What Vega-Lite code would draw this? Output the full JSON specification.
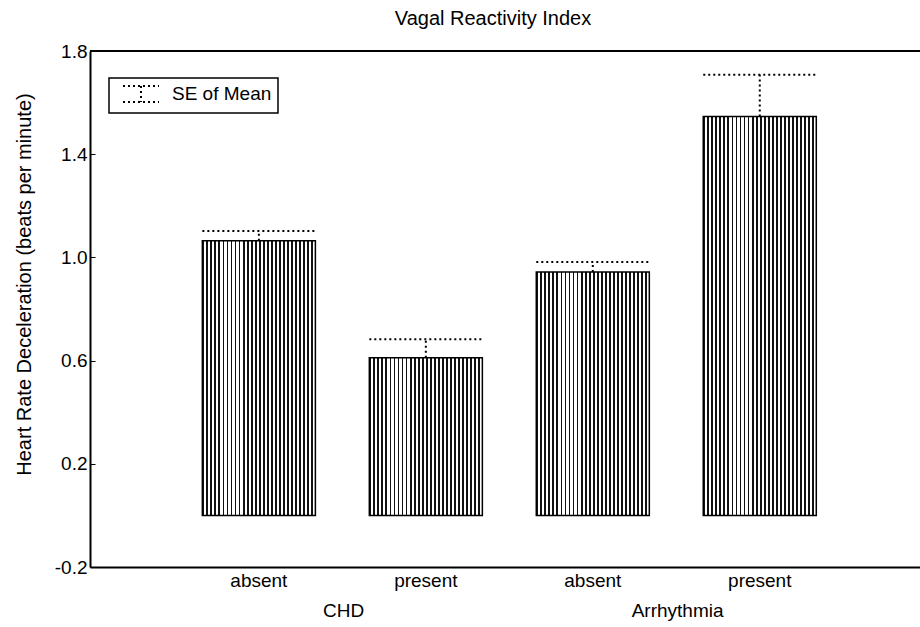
{
  "$schema": "https://vega.github.io/schema/vega-lite/v6.json",
  "autosize": "none",
  "width": 830,
  "height": 516,
  "padding": {"left": 90, "top": 51, "right": 0, "bottom": 60},
  "background": "white",
  "title": {"text": "Vagal Reactivity Index", "fontSize": 20, "fontWeight": "normal", "font": "Liberation Sans", "color": "black", "offset": 13, "dx": -12},
  "data": {"values": [
    {"group": "CHD", "status": "absent", "key": "CHD absent", "mean": 1.065, "upper": 1.102},
    {"group": "CHD", "status": "present", "key": "CHD present", "mean": 0.611, "upper": 0.683},
    {"group": "Arrhythmia", "status": "absent", "key": "Arrhythmia absent", "mean": 0.943, "upper": 0.982},
    {"group": "Arrhythmia", "status": "present", "key": "Arrhythmia present", "mean": 1.546, "upper": 1.708}
  ]},
  "layer": [
    {
      "mark": {"type": "bar", "stroke": "black", "strokeWidth": 1.5,
        "fill": {"gradient": "linear", "x1": 0, "x2": 1, "y1": 0, "y2": 0, "stops": [
          {"offset": 0, "color": "#111"}, {"offset": 0.01607, "color": "#111"}, {"offset": 0.01607, "color": "#fff"}, {"offset": 0.03571, "color": "#fff"},
          {"offset": 0.03571, "color": "#111"}, {"offset": 0.05179, "color": "#111"}, {"offset": 0.05179, "color": "#fff"}, {"offset": 0.07143, "color": "#fff"},
          {"offset": 0.07143, "color": "#111"}, {"offset": 0.0875, "color": "#111"}, {"offset": 0.0875, "color": "#fff"}, {"offset": 0.10714, "color": "#fff"},
          {"offset": 0.10714, "color": "#111"}, {"offset": 0.12321, "color": "#111"}, {"offset": 0.12321, "color": "#fff"}, {"offset": 0.14286, "color": "#fff"},
          {"offset": 0.14286, "color": "#111"}, {"offset": 0.15893, "color": "#111"}, {"offset": 0.15893, "color": "#fff"}, {"offset": 0.17857, "color": "#fff"},
          {"offset": 0.17857, "color": "#111"}, {"offset": 0.19464, "color": "#111"}, {"offset": 0.19464, "color": "#fff"}, {"offset": 0.21429, "color": "#fff"},
          {"offset": 0.21429, "color": "#111"}, {"offset": 0.23036, "color": "#111"}, {"offset": 0.23036, "color": "#fff"}, {"offset": 0.25, "color": "#fff"},
          {"offset": 0.25, "color": "#111"}, {"offset": 0.26607, "color": "#111"}, {"offset": 0.26607, "color": "#fff"}, {"offset": 0.28571, "color": "#fff"},
          {"offset": 0.28571, "color": "#111"}, {"offset": 0.30179, "color": "#111"}, {"offset": 0.30179, "color": "#fff"}, {"offset": 0.32143, "color": "#fff"},
          {"offset": 0.32143, "color": "#111"}, {"offset": 0.3375, "color": "#111"}, {"offset": 0.3375, "color": "#fff"}, {"offset": 0.35714, "color": "#fff"},
          {"offset": 0.35714, "color": "#111"}, {"offset": 0.37321, "color": "#111"}, {"offset": 0.37321, "color": "#fff"}, {"offset": 0.39286, "color": "#fff"},
          {"offset": 0.39286, "color": "#111"}, {"offset": 0.40893, "color": "#111"}, {"offset": 0.40893, "color": "#fff"}, {"offset": 0.42857, "color": "#fff"},
          {"offset": 0.42857, "color": "#111"}, {"offset": 0.44464, "color": "#111"}, {"offset": 0.44464, "color": "#fff"}, {"offset": 0.46429, "color": "#fff"},
          {"offset": 0.46429, "color": "#111"}, {"offset": 0.48036, "color": "#111"}, {"offset": 0.48036, "color": "#fff"}, {"offset": 0.5, "color": "#fff"},
          {"offset": 0.5, "color": "#111"}, {"offset": 0.51607, "color": "#111"}, {"offset": 0.51607, "color": "#fff"}, {"offset": 0.53571, "color": "#fff"},
          {"offset": 0.53571, "color": "#111"}, {"offset": 0.55179, "color": "#111"}, {"offset": 0.55179, "color": "#fff"}, {"offset": 0.57143, "color": "#fff"},
          {"offset": 0.57143, "color": "#111"}, {"offset": 0.5875, "color": "#111"}, {"offset": 0.5875, "color": "#fff"}, {"offset": 0.60714, "color": "#fff"},
          {"offset": 0.60714, "color": "#111"}, {"offset": 0.62321, "color": "#111"}, {"offset": 0.62321, "color": "#fff"}, {"offset": 0.64286, "color": "#fff"},
          {"offset": 0.64286, "color": "#111"}, {"offset": 0.65893, "color": "#111"}, {"offset": 0.65893, "color": "#fff"}, {"offset": 0.67857, "color": "#fff"},
          {"offset": 0.67857, "color": "#111"}, {"offset": 0.69464, "color": "#111"}, {"offset": 0.69464, "color": "#fff"}, {"offset": 0.71429, "color": "#fff"},
          {"offset": 0.71429, "color": "#111"}, {"offset": 0.73036, "color": "#111"}, {"offset": 0.73036, "color": "#fff"}, {"offset": 0.75, "color": "#fff"},
          {"offset": 0.75, "color": "#111"}, {"offset": 0.76607, "color": "#111"}, {"offset": 0.76607, "color": "#fff"}, {"offset": 0.78571, "color": "#fff"},
          {"offset": 0.78571, "color": "#111"}, {"offset": 0.80179, "color": "#111"}, {"offset": 0.80179, "color": "#fff"}, {"offset": 0.82143, "color": "#fff"},
          {"offset": 0.82143, "color": "#111"}, {"offset": 0.8375, "color": "#111"}, {"offset": 0.8375, "color": "#fff"}, {"offset": 0.85714, "color": "#fff"},
          {"offset": 0.85714, "color": "#111"}, {"offset": 0.87321, "color": "#111"}, {"offset": 0.87321, "color": "#fff"}, {"offset": 0.89286, "color": "#fff"},
          {"offset": 0.89286, "color": "#111"}, {"offset": 0.90893, "color": "#111"}, {"offset": 0.90893, "color": "#fff"}, {"offset": 0.92857, "color": "#fff"},
          {"offset": 0.92857, "color": "#111"}, {"offset": 0.94464, "color": "#111"}, {"offset": 0.94464, "color": "#fff"}, {"offset": 0.96429, "color": "#fff"},
          {"offset": 0.96429, "color": "#111"}, {"offset": 0.98036, "color": "#111"}, {"offset": 0.98036, "color": "#fff"}, {"offset": 1, "color": "#fff"}
        ]}},
      "encoding": {
        "x": {"field": "key", "type": "nominal", "sort": null,
          "scale": {"paddingInner": 0.323, "paddingOuter": 0.647, "align": 0.52},
          "axis": {"title": null, "labelExpr": "split(datum.label, ' ')[1]", "labelAngle": 0, "labelFontSize": 19, "labelFont": "Liberation Sans", "labelColor": "black", "labelPadding": 4, "ticks": false, "domainColor": "black", "domainWidth": 2}},
        "y": {"field": "mean", "type": "quantitative",
          "scale": {"domain": [-0.2, 1.8], "nice": false, "zero": false},
          "axis": {"title": "Heart Rate Deceleration (beats per minute)", "titleFontSize": 20, "titleFont": "Liberation Sans", "titleFontWeight": "normal", "titleColor": "black", "titleX": -66, "titleY": 233, "titleBaseline": "middle",
            "values": [-0.2, 0.2, 0.6, 1.0, 1.4, 1.8], "labelExpr": "replace(format(datum.value, '.1f'), '\u2212', '-')", "labelFontSize": 19, "labelFont": "Liberation Sans", "labelColor": "black", "labelPadding": 8,
            "grid": false, "ticks": true, "tickSize": -5, "tickColor": "black", "tickWidth": 1, "domainColor": "black", "domainWidth": 2}},
        "y2": {"datum": 0}
      }
    },
    {
      "mark": {"type": "rule", "strokeWidth": 2, "strokeDash": [2, 3]},
      "encoding": {
        "x": {"field": "key", "type": "nominal", "sort": null},
        "y": {"field": "mean", "type": "quantitative"},
        "y2": {"field": "upper"},
        "stroke": {"datum": "SE of Mean", "type": "nominal", "scale": {"range": ["black"]},
          "legend": {"orient": "none", "legendX": 19, "legendY": 27, "title": null,
            "symbolType": "M-2,-0.9L2,-0.9M0,-0.9L0,0.9M-2,0.9L2,0.9", "symbolSize": 324, "symbolStrokeWidth": 2, "symbolDash": [2, 3],
            "symbolFillColor": "transparent", "symbolStrokeColor": "black",
            "labelFontSize": 19, "labelFont": "Liberation Sans", "labelColor": "black", "labelOffset": 21,
            "strokeColor": "black", "padding": 6, "symbolOffset": 16}}
      }
    },
    {
      "mark": {"type": "rule", "strokeWidth": 2, "strokeDash": [2, 3]},
      "encoding": {
        "x": {"field": "key", "type": "nominal", "sort": null, "bandPosition": 0},
        "x2": {"field": "key", "bandPosition": 1},
        "y": {"field": "upper", "type": "quantitative"},
        "stroke": {"datum": "SE of Mean", "type": "nominal"}
      }
    },
    {
      "transform": [{"filter": "datum.status === 'absent'"}],
      "mark": {"type": "text", "fontSize": 19, "font": "Liberation Sans", "color": "black", "baseline": "alphabetic", "dy": 50},
      "encoding": {
        "x": {"field": "key", "type": "nominal", "sort": null, "bandPosition": 1.25},
        "y": {"datum": -0.2},
        "text": {"field": "group"}
      }
    },
    {
      "data": {"values": [{}]},
      "mark": {"type": "rule", "strokeWidth": 2, "color": "black"},
      "encoding": {"y": {"datum": 1.8}}
    }
  ],
  "config": {"view": {"stroke": null}, "font": "Liberation Sans", "legend": {"strokeWidth": 1.5}}
}
